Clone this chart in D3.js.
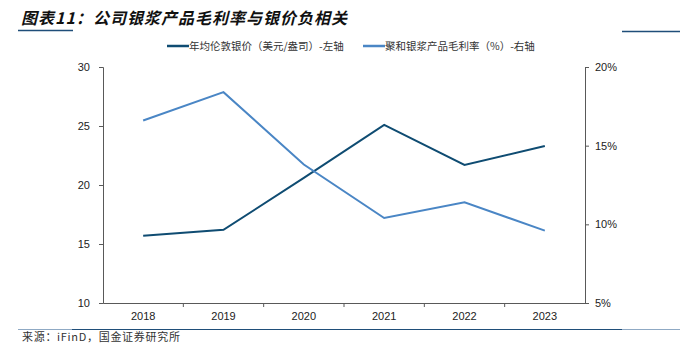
<!DOCTYPE html>
<html>
<head>
<meta charset="utf-8">
<script src="https://cdn.jsdelivr.net/npm/d3@7"></script>
<style>
  body { margin: 0; background: #fff; }
  svg text { font-family: "Liberation Sans", Arial, sans-serif; }
</style>
</head>
<body>
<div id="chart"></div>
<script>
// data
var years = ["2018", "2019", "2020", "2021", "2022", "2023"];
var silverPrice = [15.7, 16.2, 20.6, 25.1, 21.7, 23.3];   // USD/oz, left axis
var grossMargin = [16.6, 18.4, 13.8, 10.4, 11.4, 9.6];    // %, right axis
var leftTicks = [10, 15, 20, 25, 30];
var rightTicks = [5, 10, 15, 20];

var W = 684, H = 354;
var margin = {top: 67, right: 99, bottom: 51, left: 103},
  width = W - margin.left - margin.right,
  height = H - margin.top - margin.bottom;

var svg = d3.select("#chart").append("svg")
  .attr("width", W).attr("height", H);

// title
svg.append("text")
  .attr("x", 21).attr("y", 24)
  .style("font-family", "'Noto Sans CJK SC', sans-serif")
  .style("font-size", "16px").style("font-weight", "bold").style("font-style", "italic")
  .style("letter-spacing", "1px")
  .attr("fill", "#111")
  .text("图表11：公司银浆产品毛利率与银价负相关");
svg.append("line").attr("x1", 18).attr("x2", 73).attr("y1", 30.5).attr("y2", 30.5)
  .attr("stroke", "#1f4e79").attr("stroke-width", 1.5);
svg.append("line").attr("x1", 622).attr("x2", 680).attr("y1", 31.5).attr("y2", 31.5)
  .attr("stroke", "#1f4e79").attr("stroke-width", 1.5);

// legend
var legend = [
  {label: "年均伦敦银价（美元/盎司）-左轴", color: "#0f4c72", x: 167},
  {label: "聚和银浆产品毛利率（%）-右轴", color: "#4a86c5", x: 363}
];
legend.forEach(function(l) {
  svg.append("line").attr("x1", l.x).attr("x2", l.x + 22).attr("y1", 46).attr("y2", 46)
    .attr("stroke", l.color).attr("stroke-width", 2.5);
  svg.append("text").attr("x", l.x + 22).attr("y", 50)
    .style("font-family", "'Noto Sans CJK SC', sans-serif")
    .style("font-size", "10.5px").attr("fill", "#333").text(l.label);
});

var g = svg.append("g")
  .attr("transform", "translate(" + margin.left + "," + margin.top + ")");

var x = d3.scaleBand().domain(years).range([0, width]);
var yL = d3.scaleLinear().domain([10, 30]).range([height, 0]);
var yR = d3.scaleLinear().domain([5, 20]).range([height, 0]);

// axes
var axL = g.append("g")
  .call(d3.axisLeft(yL).tickValues(leftTicks).tickSize(4).tickPadding(9));
var axR = g.append("g").attr("transform", "translate(" + width + ",0)")
  .call(d3.axisRight(yR).tickValues(rightTicks).tickSize(4).tickPadding(6)
    .tickFormat(function(d) { return d + "%"; }));
var axB = g.append("g").attr("transform", "translate(0," + height + ")")
  .call(d3.axisBottom(x).tickSize(0).tickPadding(9));
// bottom ticks at category boundaries
g.selectAll(".btick").data(years.slice(1)).enter().append("line")
  .attr("x1", function(d) { return x(d); }).attr("x2", function(d) { return x(d); })
  .attr("y1", height).attr("y2", height + 4)
  .attr("stroke", "#595959");

[axL, axR, axB].forEach(function(a) {
  a.selectAll("path, line").attr("stroke", "#595959");
  a.selectAll("text").attr("fill", "#222").style("font-size", "11px")
    .style("font-family", "'Liberation Sans', Arial, sans-serif");
});

var cx = function(i) { return x(years[i]) + x.bandwidth() / 2; };

var lineL = d3.line().x(function(d, i) { return cx(i); }).y(function(d) { return yL(d); });
var lineR = d3.line().x(function(d, i) { return cx(i); }).y(function(d) { return yR(d); });

g.append("path").datum(silverPrice).attr("d", lineL)
  .attr("fill", "none").attr("stroke", "#0f4c72").attr("stroke-width", 2);
g.append("path").datum(grossMargin).attr("d", lineR)
  .attr("fill", "none").attr("stroke", "#4a86c5").attr("stroke-width", 2);

// footer
svg.append("line").attr("x1", 18).attr("x2", 680).attr("y1", 329.5).attr("y2", 329.5)
  .attr("stroke", "#1f4e79").attr("stroke-width", 1.2);
svg.append("line").attr("x1", 18).attr("x2", 72).attr("y1", 329.5).attr("y2", 329.5)
  .attr("stroke", "#8fa9c4").attr("stroke-width", 1.2);
svg.append("line").attr("x1", 622).attr("x2", 680).attr("y1", 329.5).attr("y2", 329.5)
  .attr("stroke", "#8fa9c4").attr("stroke-width", 1.2);
svg.append("text").attr("x", 22).attr("y", 341)
  .style("font-family", "'Noto Sans CJK SC', monospace")
  .style("font-size", "11px").style("letter-spacing", "0.7px").attr("fill", "#333")
  .text("来源：iFinD，国金证券研究所");
</script>
</body>
</html>
